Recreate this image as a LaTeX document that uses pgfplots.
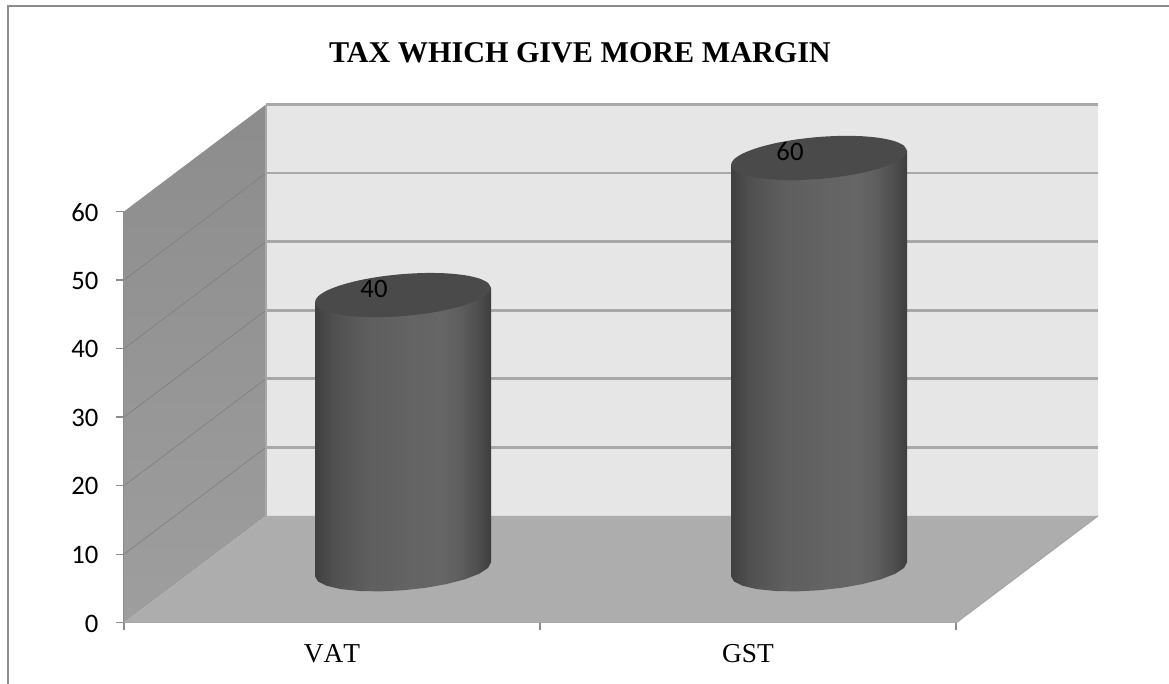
\documentclass[border=0pt]{standalone}
\usepackage{fontspec}
\setmainfont{Liberation Serif}
\newfontfamily\calibri{Carlito}
\usepackage{pgfplots}
\usepackage{pgfplotstable}
\pgfplotsset{compat=1.18}

\definecolor{frame}{HTML}{8C8C8C}
\definecolor{wallback}{HTML}{E6E6E6}
\definecolor{wallline}{HTML}{A8A8A8}
\definecolor{floorcol}{HTML}{ADADAD}
\definecolor{captop}{HTML}{4A4A4A}
\definecolor{cylA}{gray}{0.25}
\definecolor{cylB}{gray}{0.31}
\definecolor{cylC}{gray}{0.37}
\definecolor{cylD}{gray}{0.39}
\definecolor{cylE}{gray}{0.40}
\definecolor{cylF}{gray}{0.37}
\definecolor{cylG}{gray}{0.31}
\definecolor{cylH}{gray}{0.24}

\pgfdeclarehorizontalshading{cylbody}{100bp}{%
  color(0bp)=(cylA);
  color(25bp)=(cylA);
  color(30bp)=(cylB);
  color(40bp)=(cylC);
  color(52bp)=(cylD);
  color(61bp)=(cylE);
  color(66bp)=(cylF);
  color(71bp)=(cylG);
  color(75bp)=(cylH);
  color(100bp)=(cylH)}

% chart values
\pgfplotstableread{
x   v
0.5 40
1.5 60
}\taxdata

% cylinder outline, offsets in pixels from the cylinder centre
\pgfplotstableread{
dx dy lev
-88 -7 1
-88 -7 0
-85 -12.2 0
-76.2 -16.56 0
-62.2 -19.8 0
-44 -21.69 0
-22.8 -22.09 0
0 -21 0
22.8 -18.47 0
44 -14.69 0
62.2 -9.9 0
76.2 -4.44 0
85 1.32 0
88 7 0
88 7 1
}\bodyshape

\pgfplotstableread{
dx dy
88 7
85 12.2
76.2 16.56
62.2 19.8
44 21.69
22.8 22.09
0 21
-22.8 18.47
-44 14.69
-62.2 9.9
-76.2 4.44
-85 -1.32
-88 -7
-85 -12.2
-76.2 -16.56
-62.2 -19.8
-44 -21.69
-22.8 -22.09
0 -21
22.8 -18.47
44 -14.69
62.2 -9.9
76.2 -4.44
85 1.32
88 7
}\capshape

\newcommand{\cylinder}[2]{%
  \addplot[draw=none,shade,shading=cylbody] table[
    x expr=#1+(71+\thisrow{dx})/416,
    y expr=\thisrow{lev}*#2+(53.5+\thisrow{dy})/6.855] {\bodyshape} -- cycle;
  \addplot[draw=none,fill=captop,smooth] table[
    x expr=#1+(71+\thisrow{dx})/416,
    y expr=#2+(53.5+\thisrow{dy})/6.855] {\capshape} -- cycle;
}

\begin{document}
\begin{tikzpicture}
\useasboundingbox (-93pt,-45.9pt) rectangle (783.75pt,467.1pt);
\begin{axis}[
  at={(0,0)},
  anchor=south west,
  scale only axis,
  width=624pt,
  height=308.5pt,
  xmin=0, xmax=2,
  ymin=0, ymax=60,
  clip=false,
  axis x line*=bottom,
  axis y line*=left,
  axis line style={draw=frame,line width=1pt},
  tick align=outside,
  tick style={draw=frame,line width=1pt},
  major tick length=6pt,
  minor tick length=5.25pt,
  xtick={0.5,1.5},
  xticklabels={VAT,GST},
  major x tick style={draw=none},
  minor xtick={0,1,2},
  xticklabel style={font=\fontsize{20.5}{24}\selectfont\addfontfeatures{Kerning=Off},yshift=-7pt},
  ytick={0,10,...,60},
  /pgf/number format/assume math mode=true,
  yticklabel style={font=\fontsize{20}{24}\selectfont\calibri,xshift=-9.75pt,yshift=-.5pt},
  title={\textbf{TAX WHICH GIVE MORE MARGIN}},
  title style={at={(0.548,1.366)},anchor=center,font=\fontsize{22.6}{27}\selectfont},
]
  % outer frame of the chart area
  \addplot[draw=frame,line width=1.5pt] coordinates {(-0.279,-8.93) (-0.279,89.9) (2.512,89.9)};

  % walls and floor
  \addplot[draw=none,shade,top color=black!45,bottom color=black!38] coordinates
    {(0,0) (0,60) (0.3413,75.6) (0.3413,15.6)} -- cycle;
  \addplot[fill=wallback,draw=none] coordinates
    {(0.3413,15.6) (2.3413,15.6) (2.3413,75.6) (0.3413,75.6)} -- cycle;
  \addplot[fill=floorcol,draw=none] coordinates
    {(0,0) (0.3413,15.6) (2.3413,15.6) (2,0)} -- cycle;

  % grid lines
  \addplot[draw=black!50,line width=.5pt] coordinates {(0,10) (0.3413,25.6)};
  \addplot[draw=black!50,line width=.5pt] coordinates {(0,20) (0.3413,35.6)};
  \addplot[draw=black!50,line width=.5pt] coordinates {(0,30) (0.3413,45.6)};
  \addplot[draw=black!50,line width=.5pt] coordinates {(0,40) (0.3413,55.6)};
  \addplot[draw=black!50,line width=.5pt] coordinates {(0,50) (0.3413,65.6)};
  \addplot[draw=wallline,line width=2pt] coordinates {(0.3413,25.6) (2.3413,25.6)};
  \addplot[draw=wallline,line width=2pt] coordinates {(0.3413,35.6) (2.3413,35.6)};
  \addplot[draw=wallline,line width=2pt] coordinates {(0.3413,45.6) (2.3413,45.6)};
  \addplot[draw=wallline,line width=2pt] coordinates {(0.3413,55.6) (2.3413,55.6)};
  \addplot[draw=wallline,line width=2pt] coordinates {(0.3413,65.6) (2.3413,65.6)};
  \addplot[draw=wallline,line width=2pt] coordinates {(0.3413,75.6) (2.3413,75.6)};
  \addplot[draw=wallline,line width=1.2pt] coordinates {(0.3413,75.6) (0.3413,15.6)};
  \addplot[draw=wallline,line width=1pt] coordinates {(2,0) (2.3413,15.6)};
  \addplot[draw=wallline,line width=1pt] coordinates {(0,0) (2,0)};

  \cylinder{0.5}{40}
  \cylinder{1.5}{60}

  % value labels on the caps
  \addplot[draw=none,mark=none,
    nodes near coords,
    point meta=explicit,
    nodes near coords style={anchor=center,text=black,
      font=\fontsize{20}{24}\selectfont\calibri,
      /pgf/number format/assume math mode=true}]
    table[x expr=\thisrow{x}+(71-29)/416,
          y expr=\thisrow{v}+(53.5+6)/6.855,
          meta=v] {\taxdata};
\end{axis}
\end{tikzpicture}
\end{document}
